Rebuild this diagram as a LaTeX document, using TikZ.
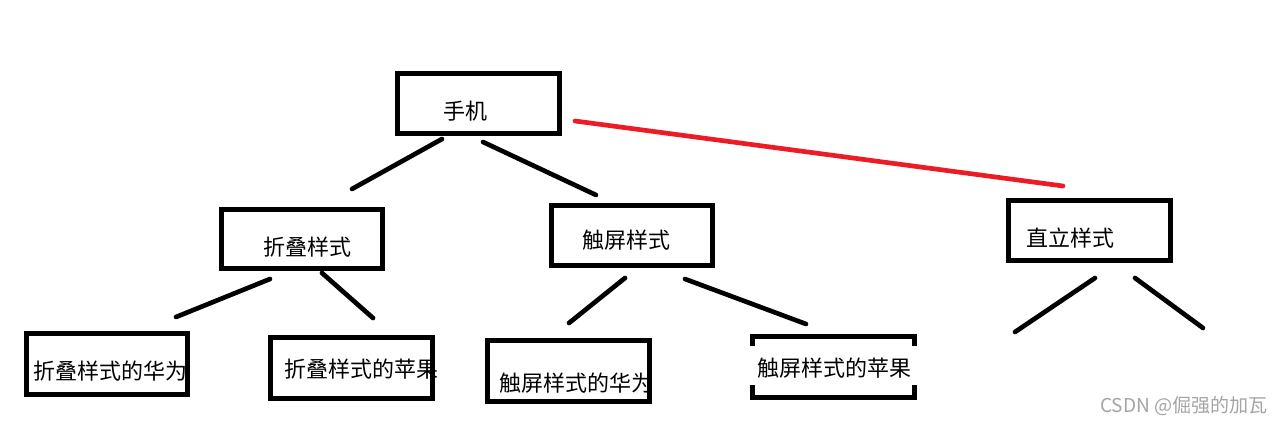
\documentclass[tikz,border=0pt]{standalone}
\usepackage{fontspec}
\setmainfont{Noto Sans CJK SC}
\usetikzlibrary{calc}
\definecolor{redline}{RGB}{237,28,36}
\definecolor{wmgray}{RGB}{165,165,165}
\tikzset{
  boxnode/.style={draw, line width=3.75pt, inner sep=0pt, line join=miter},
  plainbox/.style={inner sep=0pt},
  lbl/.style={inner sep=0pt, font=\fontsize{16.5pt}{18pt}\selectfont, text=black},
  conn/.style={line width=3.5pt, line cap=round, black},
  redconn/.style={line width=3.5pt, line cap=round, redline},
  wm/.style={inner sep=0pt, font=\fontsize{14.3pt}{16pt}\selectfont, text=wmgray}
}
\begin{document}
\begin{tikzpicture}[x=0.75pt,y=-0.75pt]
\useasboundingbox (0,0) rectangle (1285,424);
\fill[white] (0,0) rectangle (1285,424);

% boxes
\node[boxnode, minimum width=121.5pt, minimum height=45pt] (b1) at (478.5,103.5) {};
\node[boxnode, minimum width=120.75pt, minimum height=44.25pt] (b2) at (302,239) {};
\node[boxnode, minimum width=120.75pt, minimum height=45pt] (b3) at (632,235.5) {};
\node[boxnode, minimum width=121.5pt, minimum height=45pt] (b4) at (1089.5,230.5) {};
\node[boxnode, minimum width=120.75pt, minimum height=45.75pt] (b5) at (107,364) {};
\node[boxnode, minimum width=121.5pt, minimum height=45.75pt] (b6) at (351.5,368) {};
\node[boxnode, minimum width=121.5pt, minimum height=45.75pt] (b7) at (568.5,371) {};
\node[plainbox, minimum width=121.5pt, minimum height=45.75pt] (b8) at (833.5,367) {};
\draw[line width=3.75pt, line join=miter]
  ($(b8.north west)+(0,9.5)$) -- (b8.north west) -- (b8.north east) -- ($(b8.north east)+(0,9.5)$);
\draw[line width=3.75pt, line join=miter]
  ($(b8.south west)+(0,-12.5)$) -- (b8.south west) -- (b8.south east) -- ($(b8.south east)+(0,-12.5)$);

% labels
\node[lbl] (t1) at (465,111) {手机};
\node[lbl] (t2) at (307.5,247) {折叠样式};
\node[lbl] (t3) at (626.5,240) {触屏样式};
\node[lbl] (t4) at (1070,238.5) {直立样式};
\node[lbl] (t5) at (110,371) {折叠样式的华为};
\node[lbl] (t6) at (361,369) {折叠样式的苹果};
\node[lbl] (t7) at (576,383) {触屏样式的华为};
\node[lbl] (t8) at (834.5,368.5) {触屏样式的苹果};

% connector end points
\coordinate (p1a) at (442,139);
\coordinate (p1b) at (352,189);
\coordinate (p2a) at (483,142);
\coordinate (p2b) at (596,195);
\coordinate (r1) at (575,121);
\coordinate (r2) at (1063,186);
\coordinate (f1a) at (270,279);
\coordinate (f1b) at (176,317);
\coordinate (f2a) at (322,273);
\coordinate (f2b) at (373,318);
\coordinate (c1a) at (625,278);
\coordinate (c1b) at (569,323);
\coordinate (c2a) at (685,279);
\coordinate (c2b) at (806,324);
\coordinate (u1a) at (1095,278);
\coordinate (u1b) at (1015,332);
\coordinate (u2a) at (1135,278);
\coordinate (u2b) at (1203,328);

\draw[conn] (p1a) -- (p1b);
\draw[conn] (p2a) -- (p2b);
\draw[redconn] (r1) -- (r2);
\draw[conn] (f1a) -- (f1b);
\draw[conn] (f2a) -- (f2b);
\draw[conn] (c1a) -- (c1b);
\draw[conn] (c2a) -- (c2b);
\draw[conn] (u1a) -- (u1b);
\draw[conn] (u2a) -- (u2b);

% watermark
\node[wm] (wm) at (1184,406) {CSDN @倔强的加瓦};
\end{tikzpicture}
\end{document}
